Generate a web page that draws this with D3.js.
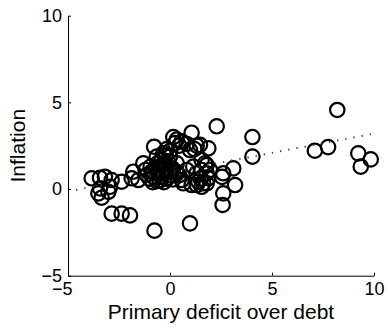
<!DOCTYPE html>
<html>
<head>
<meta charset="utf-8">
<script src="https://cdn.jsdelivr.net/npm/d3@7"></script>
<style>
  html, body { margin: 0; padding: 0; background: #fff; }
  svg { display: block; }
  text { font-family: "Liberation Sans", Arial, Helvetica, sans-serif; fill: #000; }
</style>
</head>
<body>
<svg id="chart" width="388" height="330"></svg>
<script>
// ---- data ----
const xValues = [
  8.2, 4.04, 4.04, 7.1, 7.75, 9.23, 9.35, 9.84, 2.29,
  2.61, 2.55, 3.10, 3.19, 2.61, 2.58,
  -0.76, 0.98, -2.86, -2.37, -1.96,
  -3.84, -3.43, -3.19, -2.86, -3.43, -3.51, -3.35, -2.94, -3.02, -2.37, -1.88, -1.8, -1.31, -1.55, -1.14,
  0.16, 0.33, 0.25, 0.57, 0.82, 1.06, 1.31, 1.47, 1.88, 0.98, 1.2, 0.45,
  -0.78, -0.65, -0.49, -0.33, -0.16, 0.0, 0.33, 0.82, 1.14, 1.55, 1.72, 1.8, 1.63, 1.31, 1.06, 1.8, 0.57, 0.33, 1.5, 1.3, 0.1,
  1.55, 1.8, 1.96, 1.88, 1.39, 1.55, 0.65,
  -1.0, -0.9, -0.8, -0.7, -0.65, -0.55, -0.5, -0.45, -0.4, -0.35, -0.3, -0.25, -0.2, -0.15, -0.1, 0.0, 0.05, -0.6, -0.85, 0.15, -1.2, -0.95, -0.4, -0.2, 0.0, 0.3, 0.45
];
const yValues = [
  4.56, 3.0, 1.87, 2.21, 2.42, 2.06, 1.29, 1.71, 3.62,
  0.91, 0.7, 1.19, 0.23, -0.25, -0.92,
  -2.4, -1.98, -1.42, -1.42, -1.52,
  0.62, 0.65, 0.71, 0.52, 0.04, -0.25, -0.5, 0.13, -0.16, 0.42, 0.62, 1.0, 1.48, 0.52, 0.81,
  3.0, 2.85, 2.65, 2.75, 2.6, 3.25, 2.5, 2.55, 2.35, 2.25, 2.3, 2.5,
  2.44, 1.87, 1.29, 2.06, 2.3, 1.87, 1.48, 1.1, 1.29, 1.1, 1.48, 0.9, 0.33, 0.23, 0.23, 0.33, 0.52, 0.9, 0.6, 0.9, 1.2,
  1.67, 1.38, 1.1, 0.62, 0.42, 0.13, 0.33,
  0.6, 1.0, 0.7, 1.2, 0.45, 0.85, 0.5, 1.05, 0.7, 1.4, 0.4, 0.9, 1.2, 0.6, 1.6, 0.8, 1.0, 1.5, 0.4, 0.55, 1.1, 1.3, 1.7, 1.9, 2.2, 1.0, 0.8
];
const fitX = [-4.6, 10];
const fitY = [-0.05, 3.2];
const xTicks = [-5, 0, 5, 10];
const yTicks = [-5, 0, 5, 10];
const xDomain = [-5, 10];
const yDomain = [-5, 10];
const xLabel = "Primary deficit over debt";
const yLabel = "Inflation";

// ---- chart ----
const svg = d3.select("#chart");
const mLeft = 68, mRight = 374, mTop = 15.7, mBottom = 275.7;

const x = d3.scaleLinear().domain(xDomain).range([mLeft, mRight]);
const y = d3.scaleLinear().domain(yDomain).range([mBottom, mTop]);

const points = xValues.map((v, i) => ({ x: v, y: yValues[i] }));

svg.append("g")
  .selectAll("circle")
  .data(points)
  .join("circle")
  .attr("cx", d => x(d.x))
  .attr("cy", d => y(d.y))
  .attr("r", 7.2)
  .attr("fill", "none")
  .attr("stroke", "#000")
  .attr("stroke-width", 2.2);

const line = d3.line().x(d => x(d[0])).y(d => y(d[1]));
svg.append("path")
  .datum(fitX.map((v, i) => [v, fitY[i]]))
  .attr("d", line)
  .attr("fill", "none")
  .attr("stroke", "#444")
  .attr("stroke-width", 2)
  .attr("stroke-dasharray", "1.3,7");

const xAxis = d3.axisBottom(x).tickValues(xTicks).tickSizeInner(-3).tickSizeOuter(0).tickPadding(7).tickFormat(d3.format("d"));
const gx = svg.append("g").attr("transform", `translate(0,${mBottom})`).call(xAxis);
gx.selectAll("text").attr("font-size", 18).style("font-family", '"Liberation Sans", Arial, sans-serif');
gx.selectAll(".tick").filter(d => d < 0).select("text").attr("text-anchor", "end").attr("x", 4);

const yAxis = d3.axisLeft(y).tickValues(yTicks).tickSizeInner(-3).tickSizeOuter(0).tickPadding(6).tickFormat(d3.format("d"));
const gy = svg.append("g").attr("transform", `translate(${mLeft},0)`).call(yAxis);
gy.selectAll("text").attr("font-size", 18).style("font-family", '"Liberation Sans", Arial, sans-serif');

svg.selectAll(".domain").attr("stroke", "#000").attr("stroke-width", 1);
svg.selectAll(".tick line").attr("stroke", "#000");

svg.append("text")
  .attr("x", (mLeft + mRight) / 2)
  .attr("y", 319)
  .attr("text-anchor", "middle")
  .attr("font-size", 21)
  .text(xLabel);

svg.append("text")
  .attr("transform", `translate(25,${(mTop + mBottom) / 2}) rotate(-90)`)
  .attr("text-anchor", "middle")
  .attr("font-size", 21)
  .text(yLabel);
</script>
</body>
</html>
